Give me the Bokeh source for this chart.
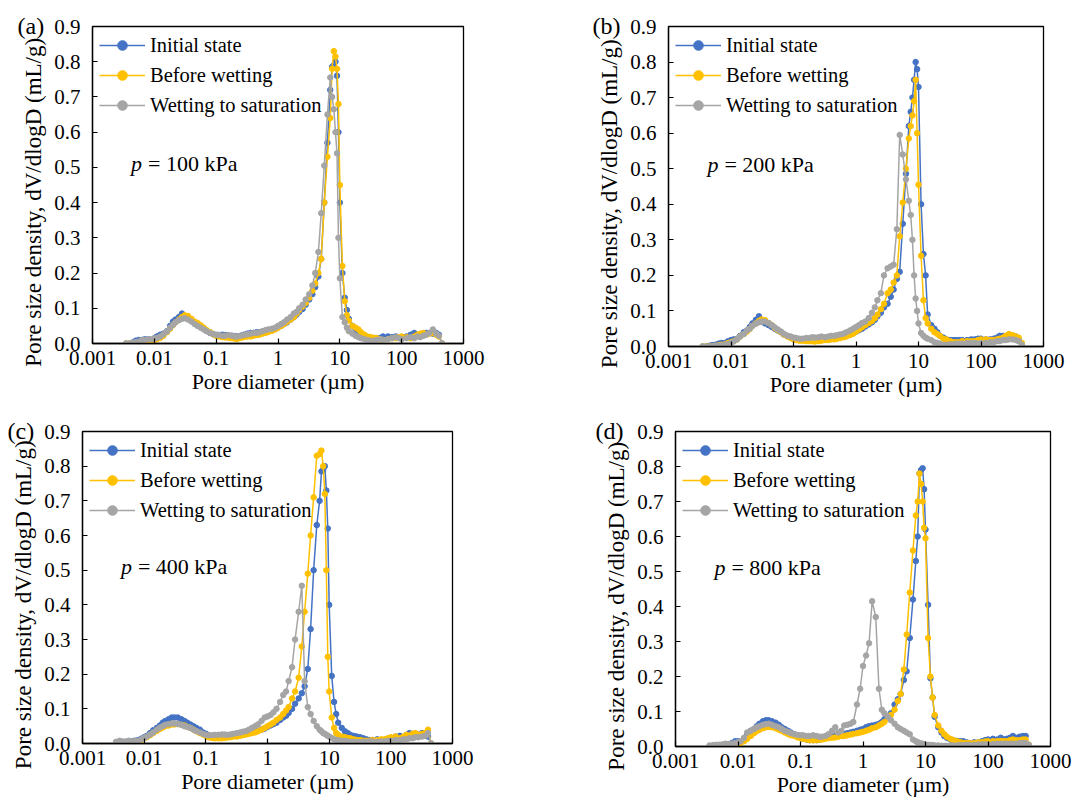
from bokeh.plotting import figure
from bokeh.layouts import column, row
from bokeh.models import Range1d, FixedTicker, CustomJSTickFormatter, Label
from bokeh.embed import file_html
from bokeh.resources import INLINE

# ---------------- data ----------------
# pore diameter grid (um)
D_UM = [
    0.0035, 0.004, 0.0045, 0.005, 0.0056, 0.0063, 0.007, 0.008, 0.009, 0.010,
    0.011, 0.0125, 0.014, 0.016, 0.018, 0.020, 0.022, 0.025, 0.028, 0.031,
    0.035, 0.040, 0.045, 0.050, 0.056, 0.063, 0.070, 0.080, 0.090, 0.10,
    0.11, 0.125, 0.14, 0.16, 0.18, 0.20, 0.22, 0.25, 0.28, 0.32,
    0.36, 0.40, 0.45, 0.50, 0.56, 0.63, 0.70, 0.80, 0.90, 1.0,
    1.12, 1.25, 1.4, 1.6, 1.8, 2.0, 2.2, 2.5, 2.8, 3.2,
    3.6, 4.0, 4.5, 5.0, 5.6, 6.3, 7.0, 7.5, 8.0, 8.5,
    9.0, 9.5, 10.0, 11.0, 12.0, 13.0, 14.0, 16.0, 18.0, 20.0,
    22.0, 25.0, 28.0, 32.0, 36.0, 40.0, 45.0, 50.0, 60.0, 70.0,
    80.0, 90.0, 100.0, 120.0, 140.0, 160.0, 180.0, 200.0, 225.0, 250.0, 280.0, 320.0, 360.0, 400.0, 450.0,
]

SERIES_NAMES = ["Initial state", "Before wetting", "Wetting to saturation"]
PANEL_TAGS = ["(a)", "(b)", "(c)", "(d)"]
PRESSURES = ["100", "200", "400", "800"]

# ---- panel (a), p = 100 kPa
A_INITIAL = [
    0.000, 0.000, 0.003, 0.008, 0.010, 0.010, 0.012, 0.012, 0.010, 0.015,
    0.020, 0.025, 0.028, 0.035, 0.050, 0.062, 0.068, 0.075, 0.085, 0.078,
    0.072, 0.065, 0.058, 0.052, 0.048, 0.042, 0.036, 0.030, 0.026, 0.024,
    0.024, 0.025, 0.024, 0.022, 0.022, 0.021, 0.020, 0.022, 0.025, 0.028,
    0.030, 0.030, 0.032, 0.032, 0.034, 0.036, 0.038, 0.040, 0.042, 0.046,
    0.050, 0.055, 0.060, 0.068, 0.075, 0.082, 0.090, 0.098, 0.110, 0.125,
    0.140, 0.160, 0.190, 0.240, 0.400, 0.570, 0.720, 0.785, 0.790, 0.800,
    0.760, 0.600, 0.400, 0.200, 0.130, 0.095, 0.070, 0.050, 0.040, 0.030,
    0.025, 0.020, 0.018, 0.015, 0.015, 0.015, 0.016, 0.020, 0.020, 0.018,
    0.020, 0.018, 0.018, 0.020, 0.025, 0.030, 0.022, 0.020, 0.025, 0.030, 0.030, 0.028, 0.030, 0.025, 0.000,
]
A_BEFORE = [
    0.000, 0.000, 0.000, 0.000, 0.002, 0.004, 0.005, 0.006, 0.008, 0.010,
    0.012, 0.016, 0.022, 0.032, 0.042, 0.052, 0.060, 0.068, 0.075, 0.080,
    0.078, 0.070, 0.062, 0.058, 0.052, 0.045, 0.038, 0.032, 0.026, 0.022,
    0.020, 0.018, 0.017, 0.016, 0.015, 0.014, 0.013, 0.016, 0.018, 0.020,
    0.020, 0.022, 0.024, 0.025, 0.028, 0.030, 0.033, 0.036, 0.040, 0.045,
    0.050, 0.055, 0.062, 0.068, 0.075, 0.085, 0.095, 0.105, 0.115, 0.130,
    0.150, 0.170, 0.200, 0.240, 0.400, 0.530, 0.640, 0.780, 0.830, 0.815,
    0.780, 0.680, 0.450, 0.220, 0.120, 0.080, 0.065, 0.050, 0.045, 0.040,
    0.032, 0.025, 0.020, 0.018, 0.016, 0.015, 0.012, 0.010, 0.012, 0.015,
    0.015, 0.018, 0.020, 0.018, 0.015, 0.020, 0.025, 0.028, 0.030, 0.025, 0.028, 0.030, 0.025, 0.020, 0.000,
]
A_SATURATED = [
    0.000, 0.000, 0.002, 0.004, 0.006, 0.010, 0.010, 0.012, 0.012, 0.014,
    0.016, 0.020, 0.026, 0.034, 0.045, 0.053, 0.060, 0.066, 0.070, 0.072,
    0.068, 0.062, 0.055, 0.050, 0.045, 0.040, 0.035, 0.030, 0.027, 0.025,
    0.024, 0.022, 0.022, 0.024, 0.022, 0.020, 0.020, 0.022, 0.024, 0.026,
    0.028, 0.030, 0.030, 0.032, 0.035, 0.038, 0.040, 0.042, 0.045, 0.050,
    0.055, 0.060, 0.068, 0.075, 0.085, 0.090, 0.100, 0.110, 0.125, 0.140,
    0.165, 0.200, 0.260, 0.370, 0.505, 0.650, 0.755, 0.700, 0.665, 0.600,
    0.540, 0.300, 0.185, 0.075, 0.060, 0.045, 0.035, 0.028, 0.022, 0.018,
    0.015, 0.012, 0.010, 0.008, 0.008, 0.010, 0.012, 0.010, 0.012, 0.015,
    0.018, 0.015, 0.012, 0.015, 0.018, 0.015, 0.020, 0.018, 0.022, 0.025, 0.030, 0.040, 0.028, 0.022, 0.000,
]

# ---- panel (b), p = 200 kPa
B_INITIAL = [
    0.000, 0.000, 0.002, 0.004, 0.005, 0.008, 0.010, 0.010, 0.015, 0.018,
    0.020, 0.022, 0.030, 0.040, 0.045, 0.055, 0.065, 0.075, 0.085, 0.070,
    0.065, 0.060, 0.055, 0.050, 0.045, 0.040, 0.034, 0.030, 0.026, 0.022,
    0.022, 0.020, 0.020, 0.020, 0.020, 0.020, 0.020, 0.020, 0.022, 0.022,
    0.024, 0.025, 0.026, 0.028, 0.030, 0.030, 0.032, 0.034, 0.038, 0.042,
    0.046, 0.050, 0.056, 0.062, 0.068, 0.075, 0.085, 0.095, 0.110, 0.120,
    0.140, 0.160, 0.190, 0.210, 0.345, 0.486, 0.620, 0.660, 0.700, 0.750,
    0.800, 0.780, 0.730, 0.400, 0.260, 0.200, 0.090, 0.060, 0.050, 0.040,
    0.030, 0.025, 0.020, 0.018, 0.018, 0.018, 0.018, 0.018, 0.018, 0.020,
    0.020, 0.022, 0.022, 0.020, 0.020, 0.022, 0.025, 0.030, 0.030, 0.028, 0.030, 0.025, 0.028, 0.020, 0.000,
]
B_BEFORE = [
    0.000, 0.000, 0.000, 0.000, 0.002, 0.003, 0.005, 0.006, 0.010, 0.012,
    0.015, 0.020, 0.028, 0.035, 0.042, 0.050, 0.058, 0.065, 0.072, 0.076,
    0.074, 0.066, 0.060, 0.052, 0.046, 0.040, 0.034, 0.028, 0.024, 0.020,
    0.018, 0.016, 0.016, 0.015, 0.015, 0.015, 0.014, 0.015, 0.016, 0.018,
    0.018, 0.020, 0.020, 0.022, 0.024, 0.026, 0.028, 0.032, 0.036, 0.042,
    0.048, 0.054, 0.060, 0.066, 0.072, 0.080, 0.090, 0.105, 0.120, 0.150,
    0.160, 0.180, 0.200, 0.310, 0.405, 0.500, 0.585, 0.620, 0.650, 0.690,
    0.750, 0.600, 0.455, 0.255, 0.130, 0.080, 0.065, 0.050, 0.040, 0.035,
    0.030, 0.022, 0.020, 0.015, 0.012, 0.012, 0.012, 0.015, 0.015, 0.015,
    0.015, 0.018, 0.020, 0.020, 0.018, 0.018, 0.020, 0.022, 0.025, 0.030, 0.035, 0.032, 0.028, 0.025, 0.010,
]
B_SATURATED = [
    0.000, 0.000, 0.000, 0.000, 0.002, 0.002, 0.003, 0.005, 0.007, 0.010,
    0.014, 0.020, 0.028, 0.035, 0.045, 0.050, 0.058, 0.064, 0.068, 0.070,
    0.070, 0.066, 0.060, 0.054, 0.048, 0.042, 0.036, 0.030, 0.028, 0.025,
    0.024, 0.022, 0.022, 0.024, 0.024, 0.026, 0.025, 0.026, 0.028, 0.026,
    0.028, 0.030, 0.030, 0.032, 0.034, 0.036, 0.040, 0.045, 0.050, 0.055,
    0.060, 0.066, 0.070, 0.080, 0.095, 0.110, 0.130, 0.150, 0.200, 0.220,
    0.225, 0.230, 0.330, 0.595, 0.540, 0.470, 0.410, 0.370, 0.300, 0.200,
    0.135, 0.100, 0.065, 0.038, 0.030, 0.025, 0.022, 0.018, 0.012, 0.010,
    0.008, 0.005, 0.005, 0.006, 0.006, 0.008, 0.008, 0.008, 0.010, 0.010,
    0.010, 0.008, 0.010, 0.010, 0.012, 0.012, 0.015, 0.015, 0.018, 0.018, 0.020, 0.020, 0.018, 0.015, 0.005,
]

# ---- panel (c), p = 400 kPa
C_INITIAL = [
    0.000, 0.002, 0.004, 0.005, 0.006, 0.006, 0.008, 0.010, 0.014, 0.018,
    0.022, 0.030, 0.038, 0.045, 0.052, 0.060, 0.065, 0.070, 0.075, 0.075,
    0.075, 0.070, 0.065, 0.060, 0.055, 0.050, 0.045, 0.040, 0.032, 0.028,
    0.024, 0.020, 0.020, 0.018, 0.018, 0.020, 0.020, 0.022, 0.024, 0.025,
    0.026, 0.028, 0.030, 0.032, 0.034, 0.035, 0.037, 0.040, 0.043, 0.048,
    0.052, 0.056, 0.060, 0.068, 0.075, 0.080, 0.088, 0.100, 0.115, 0.130,
    0.145, 0.165, 0.215, 0.330, 0.500, 0.630, 0.700, 0.785, 0.790, 0.800,
    0.730, 0.620, 0.400, 0.195, 0.120, 0.085, 0.060, 0.045, 0.035, 0.030,
    0.025, 0.022, 0.020, 0.018, 0.015, 0.012, 0.010, 0.010, 0.012, 0.010,
    0.010, 0.012, 0.015, 0.020, 0.022, 0.018, 0.025, 0.030, 0.028, 0.025, 0.025, 0.030, 0.022, 0.020, 0.000,
]
C_BEFORE = [
    0.000, 0.000, 0.000, 0.000, 0.000, 0.000, 0.002, 0.005, 0.010, 0.015,
    0.018, 0.024, 0.030, 0.036, 0.042, 0.046, 0.050, 0.052, 0.055, 0.055,
    0.056, 0.054, 0.052, 0.048, 0.045, 0.040, 0.035, 0.030, 0.026, 0.022,
    0.018, 0.016, 0.015, 0.015, 0.015, 0.016, 0.017, 0.018, 0.020, 0.020,
    0.022, 0.024, 0.026, 0.028, 0.030, 0.032, 0.035, 0.040, 0.045, 0.050,
    0.055, 0.060, 0.068, 0.075, 0.085, 0.095, 0.105, 0.130, 0.150, 0.190,
    0.280, 0.380, 0.490, 0.600, 0.710, 0.830, 0.835, 0.845, 0.800, 0.720,
    0.500, 0.250, 0.150, 0.075, 0.045, 0.030, 0.025, 0.020, 0.018, 0.016,
    0.015, 0.012, 0.010, 0.010, 0.008, 0.008, 0.008, 0.010, 0.010, 0.012,
    0.012, 0.015, 0.018, 0.020, 0.015, 0.020, 0.025, 0.022, 0.028, 0.030, 0.025, 0.028, 0.030, 0.040, 0.000,
]
C_SATURATED = [
    0.005, 0.008, 0.006, 0.004, 0.008, 0.005, 0.008, 0.008, 0.012, 0.016,
    0.020, 0.026, 0.032, 0.040, 0.046, 0.050, 0.054, 0.056, 0.058, 0.058,
    0.056, 0.054, 0.050, 0.048, 0.045, 0.040, 0.036, 0.032, 0.028, 0.025,
    0.024, 0.024, 0.025, 0.025, 0.026, 0.026, 0.025, 0.026, 0.028, 0.030,
    0.032, 0.034, 0.036, 0.040, 0.045, 0.050, 0.055, 0.065, 0.075, 0.078,
    0.082, 0.090, 0.100, 0.120, 0.140, 0.150, 0.180, 0.220, 0.300, 0.380,
    0.455, 0.180, 0.105, 0.085, 0.065, 0.050, 0.040, 0.035, 0.030, 0.028,
    0.025, 0.022, 0.020, 0.016, 0.012, 0.010, 0.010, 0.008, 0.008, 0.006,
    0.005, 0.005, 0.004, 0.004, 0.005, 0.005, 0.006, 0.006, 0.005, 0.006,
    0.006, 0.008, 0.008, 0.010, 0.010, 0.012, 0.012, 0.015, 0.015, 0.018, 0.018, 0.020, 0.022, 0.030, 0.000,
]

# ---- panel (d), p = 800 kPa
D_INITIAL = [
    0.000, 0.000, 0.000, 0.002, 0.004, 0.005, 0.006, 0.010, 0.015, 0.015,
    0.012, 0.020, 0.035, 0.045, 0.050, 0.058, 0.065, 0.072, 0.075, 0.075,
    0.072, 0.068, 0.062, 0.055, 0.050, 0.045, 0.040, 0.035, 0.030, 0.026,
    0.022, 0.020, 0.018, 0.018, 0.018, 0.020, 0.022, 0.024, 0.025, 0.028,
    0.030, 0.032, 0.034, 0.036, 0.038, 0.040, 0.042, 0.045, 0.048, 0.050,
    0.055, 0.058, 0.060, 0.062, 0.065, 0.070, 0.078, 0.085, 0.095, 0.120,
    0.135, 0.150, 0.190, 0.215, 0.310, 0.420, 0.530, 0.600, 0.780, 0.790,
    0.795, 0.735, 0.620, 0.405, 0.195, 0.140, 0.085, 0.055, 0.040, 0.030,
    0.025, 0.020, 0.018, 0.016, 0.015, 0.015, 0.012, 0.010, 0.012, 0.012,
    0.015, 0.018, 0.020, 0.022, 0.020, 0.025, 0.020, 0.022, 0.025, 0.030, 0.025, 0.028, 0.030, 0.030, 0.000,
]
D_BEFORE = [
    0.000, 0.000, 0.000, 0.000, 0.000, 0.000, 0.000, 0.002, 0.004, 0.008,
    0.010, 0.015, 0.022, 0.030, 0.038, 0.044, 0.048, 0.052, 0.055, 0.056,
    0.055, 0.052, 0.048, 0.045, 0.040, 0.036, 0.032, 0.030, 0.026, 0.024,
    0.022, 0.020, 0.018, 0.018, 0.018, 0.020, 0.020, 0.022, 0.024, 0.025,
    0.026, 0.028, 0.030, 0.030, 0.032, 0.034, 0.036, 0.038, 0.040, 0.042,
    0.045, 0.048, 0.052, 0.055, 0.060, 0.065, 0.070, 0.080, 0.090, 0.105,
    0.130, 0.150, 0.220, 0.320, 0.440, 0.560, 0.660, 0.700, 0.780, 0.750,
    0.700, 0.625, 0.595, 0.310, 0.200, 0.140, 0.090, 0.060, 0.045, 0.035,
    0.028, 0.022, 0.018, 0.015, 0.012, 0.010, 0.010, 0.010, 0.010, 0.012,
    0.012, 0.014, 0.015, 0.015, 0.015, 0.016, 0.015, 0.015, 0.018, 0.020, 0.018, 0.018, 0.020, 0.020, 0.005,
]
D_SATURATED = [
    0.003, 0.004, 0.005, 0.005, 0.006, 0.008, 0.007, 0.008, 0.010, 0.012,
    0.015, 0.025, 0.040, 0.045, 0.050, 0.055, 0.058, 0.062, 0.064, 0.065,
    0.062, 0.058, 0.055, 0.050, 0.045, 0.042, 0.038, 0.035, 0.033, 0.032,
    0.032, 0.030, 0.030, 0.032, 0.030, 0.028, 0.028, 0.030, 0.035, 0.045,
    0.055, 0.040, 0.045, 0.060, 0.062, 0.065, 0.070, 0.120, 0.165, 0.230,
    0.260, 0.295, 0.415, 0.370, 0.165, 0.105, 0.095, 0.085, 0.075, 0.065,
    0.055, 0.050, 0.045, 0.040, 0.035, 0.020, 0.015, 0.012, 0.010, 0.008,
    0.008, 0.006, 0.005, 0.005, 0.004, 0.004, 0.003, 0.003, 0.002, 0.002,
    0.002, 0.002, 0.003, 0.003, 0.004, 0.004, 0.005, 0.005, 0.005, 0.006,
    0.006, 0.006, 0.006, 0.007, 0.008, 0.008, 0.008, 0.008, 0.008, 0.008, 0.008, 0.010, 0.010, 0.010, 0.005,
]

X_TICKS = [0.001, 0.01, 0.1, 1, 10, 100, 1000]
X_TICK_LABELS = ["0.001", "0.01", "0.1", "1", "10", "100", "1000"]
Y_TICKS = [0.0, 0.1, 0.2, 0.3, 0.4, 0.5, 0.6, 0.7, 0.8, 0.9]

PANEL_DATA = [
    [A_INITIAL, A_BEFORE, A_SATURATED],
    [B_INITIAL, B_BEFORE, B_SATURATED],
    [C_INITIAL, C_BEFORE, C_SATURATED],
    [D_INITIAL, D_BEFORE, D_SATURATED],
]
for grp in PANEL_DATA:
    for s in grp:
        assert len(s) == len(D_UM), len(s)

# ---------------- style ----------------
COLORS = ["#4472C4", "#FFC000", "#A5A5A5"]
FONT = "Liberation Serif"
NBSP = "\u00a0"

# geometry: (left, frame_w, right, top, frame_h, bottom, tag_dx)
GEOM = [
    (92, 371, 80, 26, 317, 58, -75),
    (125, 375, 28, 23, 320, 58, -76),
    (82, 370, 80, 30, 312, 60, -75),
    (143, 375, 23, 29, 315, 58, -80),
]


def make_panel(i):
    left, fw, right, top, fh, bottom, tag_dx = GEOM[i]
    p = figure(
        x_axis_type="log",
        x_range=Range1d(0.001, 1000),
        y_range=Range1d(0, 0.9),
        frame_width=fw, frame_height=fh,
        min_border_left=left, min_border_right=right,
        min_border_top=top, min_border_bottom=bottom,
        toolbar_location=None, output_backend="svg",
        background_fill_color="white", border_fill_color="white",
    )
    p.grid.visible = False
    p.outline_line_color = "black"
    p.outline_line_width = 1.3
    p.outline_line_alpha = 1.0

    # panel tag "(a)" etc. drawn as the figure title, pulled next to the 0.9 label
    p.title.text = PANEL_TAGS[i]
    p.title.align = "left"
    p.title.offset = tag_dx
    p.title.standoff = -25
    p.title.text_font = FONT
    p.title.text_font_style = "normal"
    p.title.text_font_size = "24px"
    p.title.text_color = "black"

    for name, ys, col in zip(SERIES_NAMES, PANEL_DATA[i], COLORS):
        p.line(D_UM, ys, line_color=col, line_width=1.5, legend_label=name)
        p.scatter(D_UM, ys, size=5.5, fill_color=col, line_color=col,
                  legend_label=name)

    xa = p.xaxis[0]
    xa.ticker = FixedTicker(ticks=X_TICKS, minor_ticks=[])
    xa.formatter = CustomJSTickFormatter(
        args=dict(xt=X_TICKS, xl=X_TICK_LABELS),
        code="""
        for (let k = 0; k < xt.length; k++) {
            if (Math.abs(Math.log10(xt[k]) - Math.log10(tick)) < 1e-6) return xl[k];
        }
        return '';
        """,
    )
    xa.axis_label = "Pore diameter (µm)"
    xa.major_label_standoff = 7
    xa.axis_label_standoff = 1

    ya = p.yaxis[0]
    ya.ticker = FixedTicker(ticks=Y_TICKS, minor_ticks=[])
    ya.formatter = CustomJSTickFormatter(code="return tick.toFixed(1);")
    # trailing no-break spaces push the (centred) label slightly down, as in the original
    ya.axis_label = "Pore size density, dV/dlogD (mL/g)" + NBSP * 6
    ya.major_label_standoff = 12
    ya.axis_label_standoff = 5

    for ax, lab_size in ((xa, "22px"), (ya, "23px")):
        ax.axis_label_text_font = FONT
        ax.axis_label_text_font_style = "normal"
        ax.axis_label_text_font_size = lab_size
        ax.axis_label_text_color = "black"
        ax.major_label_text_font = FONT
        ax.major_label_text_font_size = "21px"
        ax.major_label_text_color = "black"
        ax.axis_line_color = "black"
        ax.axis_line_width = 1.3
        ax.major_tick_in = 5
        ax.major_tick_out = 0
        ax.major_tick_line_color = "black"
        ax.major_tick_line_width = 1.2
        ax.minor_tick_line_color = None

    lg = p.legend[0]
    lg.location = "top_left"
    lg.border_line_alpha = 0
    lg.background_fill_alpha = 0
    lg.label_text_font = FONT
    lg.label_text_font_size = "20.5px"
    lg.label_text_color = "black"
    lg.glyph_width = 46
    lg.glyph_height = 24
    lg.label_height = 24
    lg.label_standoff = 5
    lg.spacing = 6
    lg.padding = 7
    lg.margin = 0

    p.add_layout(Label(x=0.0042, y=0.512, text="p", text_font=FONT,
                       text_font_style="italic", text_font_size="22px",
                       text_color="black", text_align="left", text_baseline="middle"))
    p.add_layout(Label(x=0.0042, y=0.512, x_offset=17, text="= " + PRESSURES[i] + " kPa",
                       text_font=FONT, text_font_size="22px", text_color="black",
                       text_align="left", text_baseline="middle"))
    return p


panels = [make_panel(i) for i in range(4)]
layout = column(row(panels[0], panels[1]), row(panels[2], panels[3]))

open("out.html", "w").write(file_html(layout, INLINE, title="Pore size density"))
